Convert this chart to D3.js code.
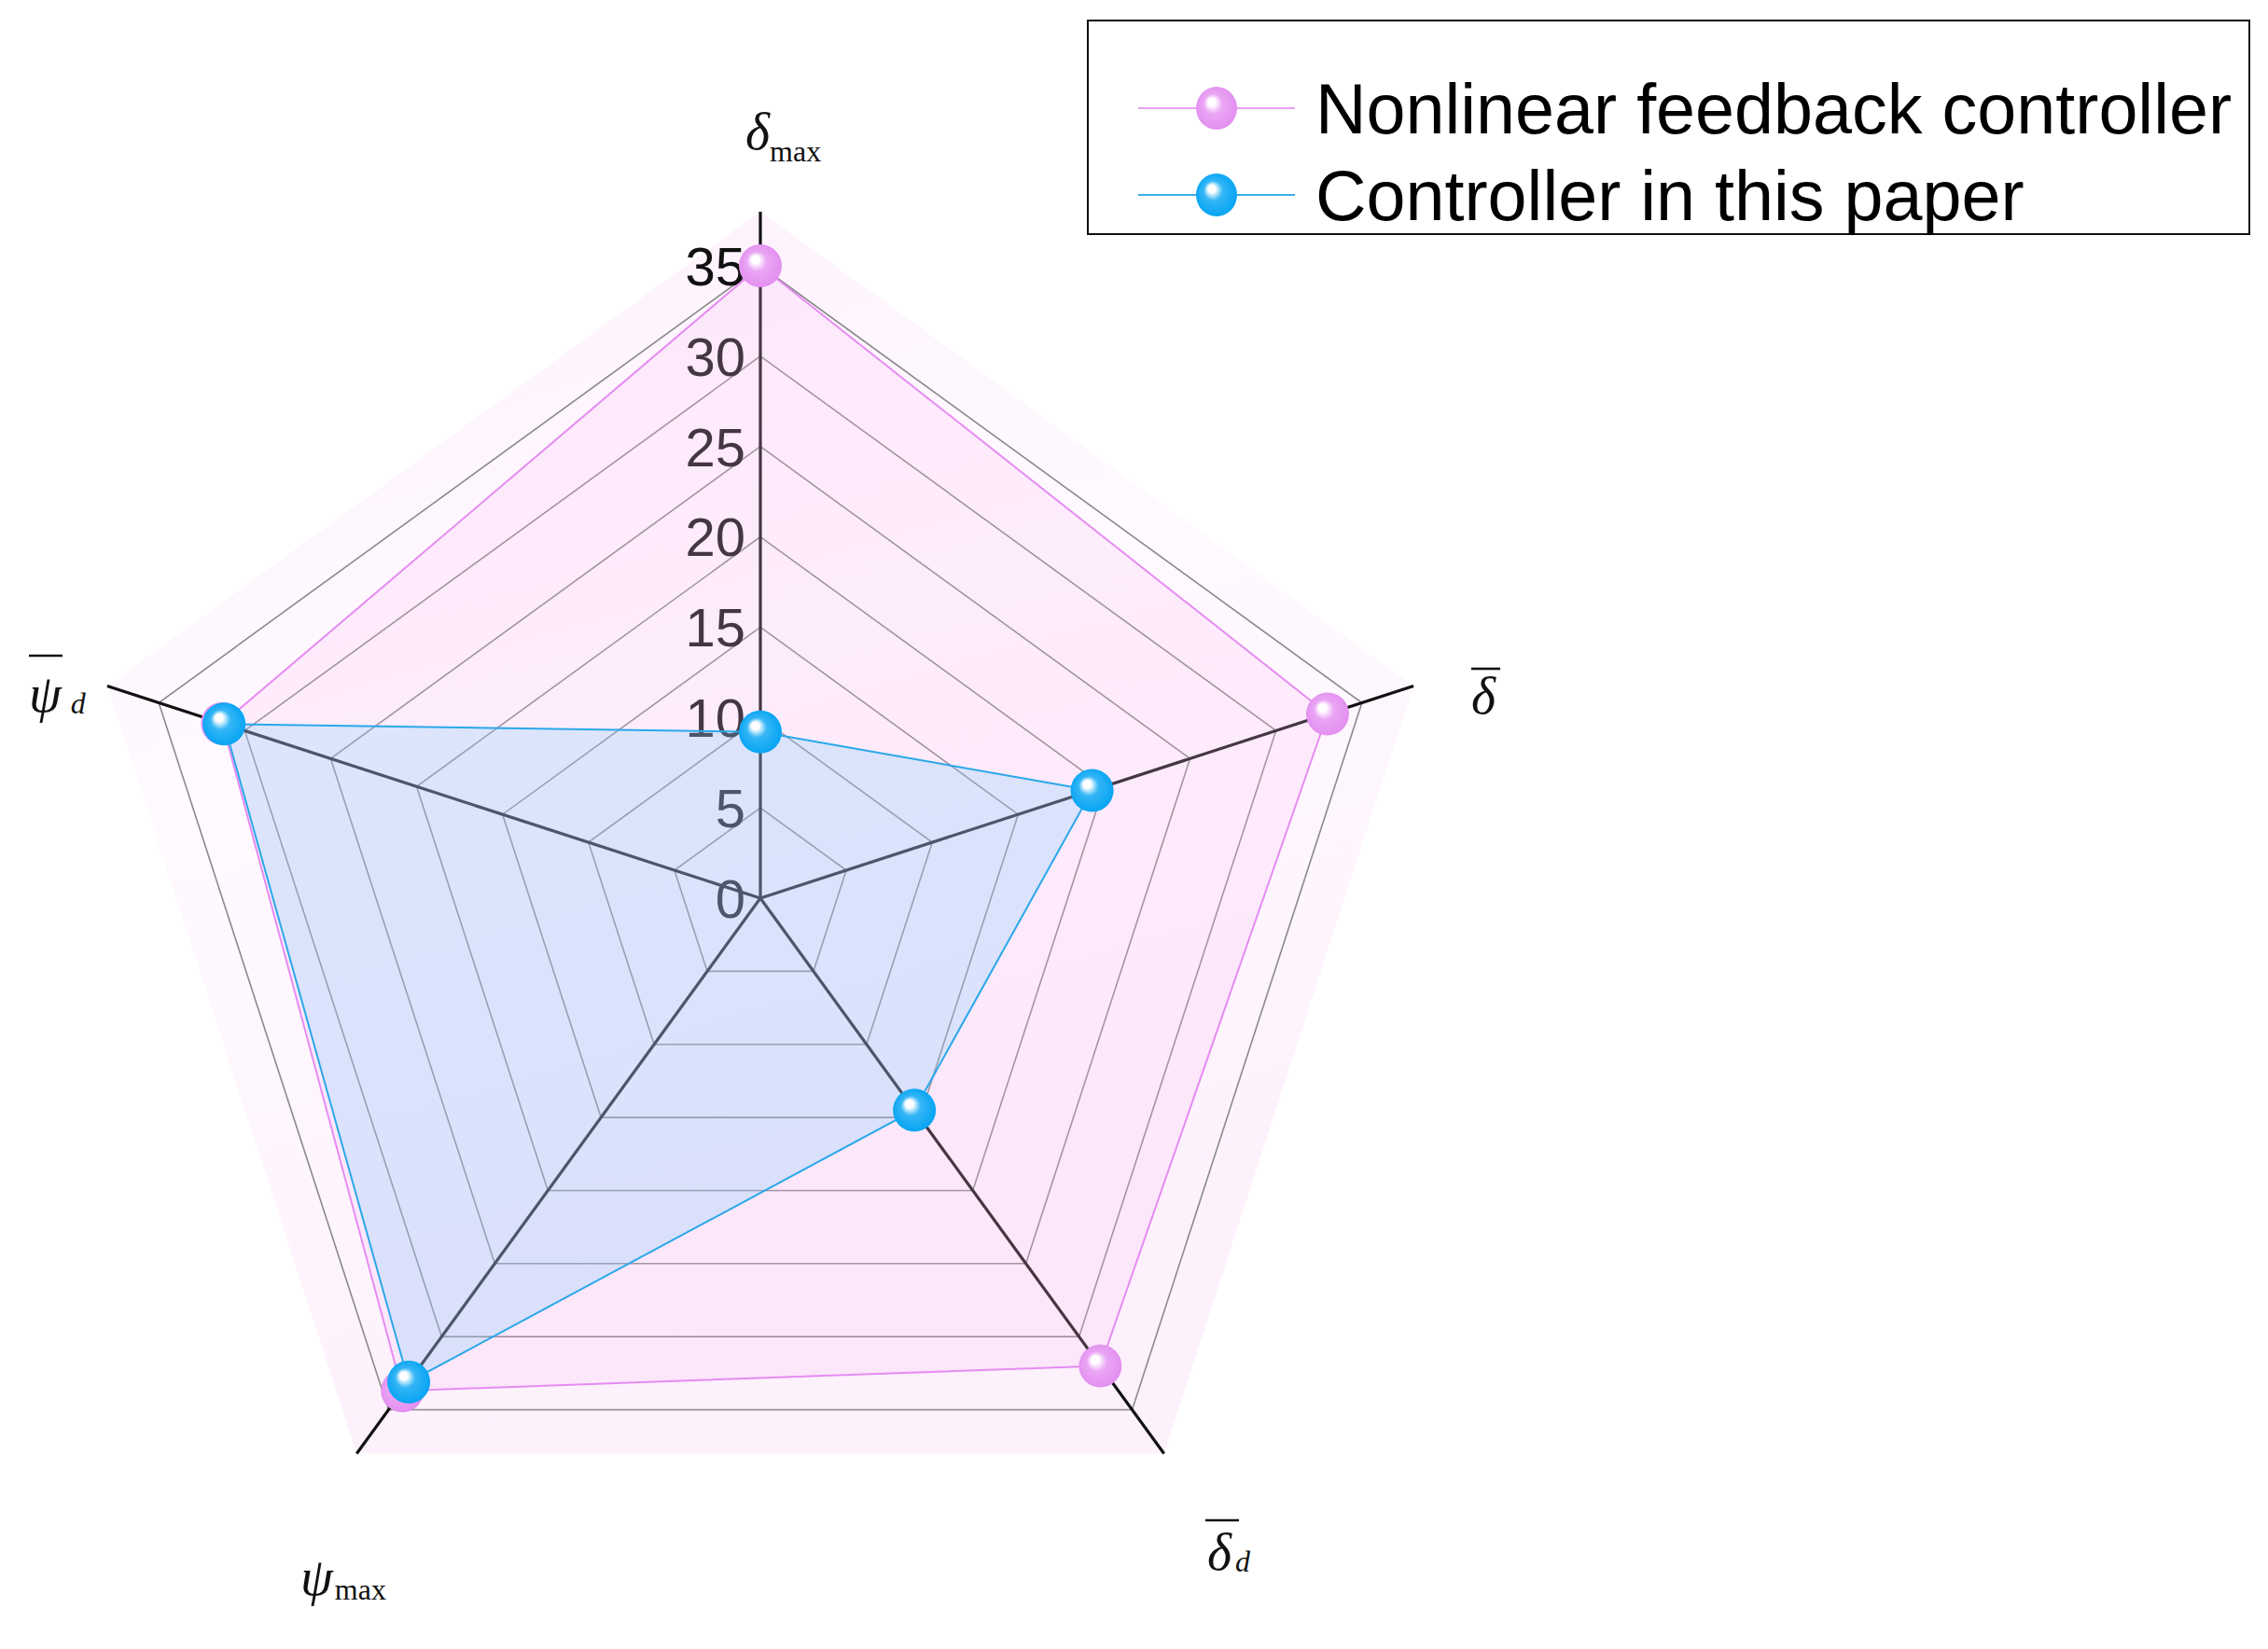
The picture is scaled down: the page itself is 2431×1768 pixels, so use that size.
<!DOCTYPE html>
<html><head><meta charset="utf-8">
<script src="https://cdn.jsdelivr.net/npm/d3@7"></script>
<style>html,body{margin:0;padding:0;background:#fff;}svg{display:block;}</style>
</head><body>
<script>
const categories = ["δmax", "δ̄", "δ̄d", "ψmax", "ψ̄d"];
const nonlinearValues = [35, 33, 32, 33.7, 31.3];
const paperValues = [9.2, 19.3, 14.5, 33.1, 31.2];
const tickValues = [0, 5, 10, 15, 20, 25, 30, 35];
const seriesNames = ["Nonlinear feedback controller", "Controller in this paper"];

const W = 2431, H = 1768;
const cx = 815, cy = 963;
const svg = d3.select("body").append("svg").attr("width", W).attr("height", H);
const r = d3.scaleLinear().domain([0, 35]).range([0, 678]);
const axisMax = 38;
const angle = d3.scaleLinear().domain([0, categories.length]).range([0, 2 * Math.PI]);
const pt = (i, v) => [cx + r(v) * Math.sin(angle(i)), cy - r(v) * Math.cos(angle(i))];

const defs = svg.append("defs");
function sphere(id, base, mid) {
  const g = defs.append("radialGradient").attr("id", id)
    .attr("cx", "50%").attr("cy", "50%").attr("r", "55%").attr("fx", "36%").attr("fy", "33%");
  g.append("stop").attr("offset", "0%").attr("stop-color", "#ffffff");
  g.append("stop").attr("offset", "16%").attr("stop-color", "#ffffff");
  g.append("stop").attr("offset", "42%").attr("stop-color", mid);
  g.append("stop").attr("offset", "100%").attr("stop-color", base);
}
sphere("gPink", "#e28cf0", "#eaa6f4");
sphere("gBlue", "#00a2f2", "#35b6f6");
const bg = defs.append("linearGradient").attr("id", "gBg").attr("x1", "0").attr("y1", "0").attr("x2", "0.3").attr("y2", "1");
bg.append("stop").attr("offset", "0%").attr("stop-color", "#fdf0fc");
bg.append("stop").attr("offset", "45%").attr("stop-color", "#fffaff");
bg.append("stop").attr("offset", "100%").attr("stop-color", "#fdf1fc");

// background pale pentagon
const ring = v => categories.map((c, i) => pt(i, v));
svg.append("polygon").attr("points", ring(axisMax).map(p => p.join(",")).join(" "))
  .attr("fill", "url(#gBg)").attr("stroke", "none");

// grid
tickValues.filter(t => t > 0).forEach(t => {
  svg.append("polygon").attr("points", ring(t).map(p => p.join(",")).join(" "))
    .attr("fill", "none").attr("stroke", "#8a8a8a").attr("stroke-width", 1.6);
});
// axes
categories.forEach((c, i) => {
  const p = pt(i, axisMax);
  svg.append("line").attr("x1", cx).attr("y1", cy).attr("x2", p[0]).attr("y2", p[1])
    .attr("stroke", "#111").attr("stroke-width", 3.2);
});
// tick labels
svg.selectAll("text.tick").data(tickValues).enter().append("text")
  .attr("x", cx - 16).attr("y", d => cy - r(d))
  .attr("dy", "0.36em").attr("text-anchor", "end")
  .attr("font-family", "Liberation Sans, Arial, sans-serif").attr("font-size", 58)
  .attr("fill", "#111").text(d => d);

// series polygons
const line = d3.line().curve(d3.curveLinearClosed);
svg.append("path").attr("d", line(nonlinearValues.map((v, i) => pt(i, v))))
  .attr("fill", "rgba(250,190,245,0.22)").attr("stroke", "none");
svg.append("path").attr("d", line(paperValues.map((v, i) => pt(i, v))))
  .attr("fill", "rgba(100,200,251,0.22)").attr("stroke", "none");
svg.append("path").attr("d", line(nonlinearValues.map((v, i) => pt(i, v))))
  .attr("fill", "none").attr("stroke", "#e58cf2").attr("stroke-width", 2);
svg.append("path").attr("d", line(paperValues.map((v, i) => pt(i, v))))
  .attr("fill", "none").attr("stroke", "#2aa8e8").attr("stroke-width", 2);

const mr = 23;
svg.selectAll("circle.nl").data(nonlinearValues).enter().append("circle")
  .attr("cx", (d, i) => pt(i, d)[0]).attr("cy", (d, i) => pt(i, d)[1]).attr("r", mr)
  .attr("fill", "url(#gPink)");
svg.selectAll("circle.pp").data(paperValues).enter().append("circle")
  .attr("cx", (d, i) => pt(i, d)[0]).attr("cy", (d, i) => pt(i, d)[1]).attr("r", mr)
  .attr("fill", "url(#gBlue)");

// axis labels
const serif = "Liberation Serif, Times New Roman, serif";
function label(x, y, main, sub, subSize, subDx, subDy, bar) {
  const t = svg.append("text").attr("x", x).attr("y", y).attr("font-family", serif).attr("fill", "#111");
  t.append("tspan").attr("font-style", "italic").attr("font-size", 56).text(main);
  if (sub) t.append("tspan").attr("font-size", subSize).attr("dx", subDx).attr("dy", subDy)
      .attr("font-style", sub === "d" ? "italic" : "normal").text(sub);
  if (bar) svg.append("line").attr("x1", bar[0]).attr("x2", bar[1]).attr("y1", bar[2]).attr("y2", bar[2])
      .attr("stroke", "#111").attr("stroke-width", 2.6);
}
label(799, 160, "δ", "max", 32, 0, 13, null);
label(1577, 765, "δ", null, 0, 0, 0, [1577, 1608, 717]);
label(1294, 1683, "δ", "d", 32, 4, 2, [1292, 1328, 1630]);
label(322, 1710, "ψ", "max", 32, 2, 5, null);
label(31, 763, "ψ", "d", 32, 10, 2, [31, 67, 703]);

// legend
const lg = svg.append("g");
lg.append("rect").attr("x", 1166).attr("y", 22).attr("width", 1245).attr("height", 229)
  .attr("fill", "#fff").attr("stroke", "#111").attr("stroke-width", 2);
const legColors = [["#e8a0f2", "url(#gPink)"], ["#3aaee6", "url(#gBlue)"]];
seriesNames.forEach((name, i) => {
  const y = 116 + i * 93;
  lg.append("line").attr("x1", 1220).attr("x2", 1388).attr("y1", y).attr("y2", y)
    .attr("stroke", legColors[i][0]).attr("stroke-width", 2);
  lg.append("ellipse").attr("cx", 1304).attr("cy", y).attr("rx", 22).attr("ry", 23).attr("fill", legColors[i][1]);
  lg.append("text").attr("x", 1410).attr("y", y).attr("dy", "0.36em")
    .attr("font-family", "Liberation Sans, Arial, sans-serif").attr("font-size", 75.5)
    .attr("fill", "#000").text(name);
});
</script>
</body></html>
